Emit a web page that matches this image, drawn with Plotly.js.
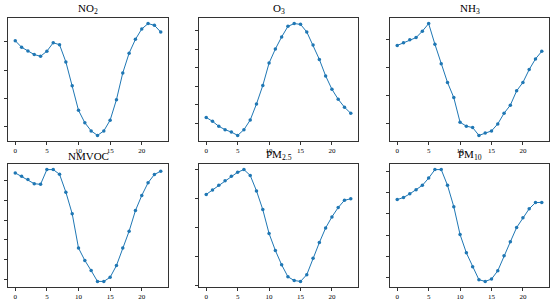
<!DOCTYPE html>
<html>
<head>
<meta charset="utf-8">
<script src="https://cdn.plot.ly/plotly-3.0.1.min.js"></script>
<style>html,body{margin:0;padding:0;background:#fff;}#chart{width:555px;height:306px;}</style>
</head>
<body>
<div id="chart"></div>
<script>
const hours = [0,1,2,3,4,5,6,7,8,9,10,11,12,13,14,15,16,17,18,19,20,21,22,23];
const titles = ["NO<sub>2</sub>", "O<sub>3</sub>", "NH<sub>3</sub>", "NMVOC", "PM<sub>2.5</sub>", "PM<sub>10</sub>"];
const no2   = [50.4,48.1,46.8,45.5,44.9,46.7,49.7,49.0,42.9,34.4,25.7,21.3,18.4,16.8,18.4,22.2,29.5,39.0,46.0,50.9,54.6,56.5,55.9,53.5];
const o3    = [23.2,21.1,18.4,16.6,15.3,13.5,16.6,21.8,30.5,40.4,52.5,60.1,66.6,72.3,73.8,73.4,69.3,62.2,54.5,45.6,38.4,33.0,28.7,25.4];
const nh3   = [48.0,49.0,50.0,50.8,53.1,55.8,48.4,41.5,34.8,29.4,20.6,19.2,18.7,15.9,16.8,17.5,20.0,23.8,26.7,31.8,34.8,39.4,43.2,45.9];
const nmvoc = [74.1,72.4,70.7,68.6,68.3,75.8,75.8,73.4,64.3,53.3,35.8,29.5,24.3,18.8,18.8,20.9,26.9,35.8,44.4,54.9,62.6,69.1,73.3,75.0];
const pm25  = [51.3,52.8,54.4,56.0,57.5,58.9,59.8,57.8,52.5,46.1,37.9,32.1,27.2,23.1,21.8,21.5,23.8,29.4,34.8,39.8,43.6,46.8,49.3,49.8];
const pm10  = [56.7,57.7,59.4,61.3,63.4,66.8,70.8,70.8,63.4,53.4,40.3,31.7,25.2,19.1,18.3,19.4,23.3,30.4,36.9,43.6,48.2,52.4,55.3,55.4];
const xTicks = [0,5,10,15,20];

const series = [no2, o3, nh3, nmvoc, pm25, pm10];
const W = 555, H = 306;
const colsPx = [[8,168],[199,358],[390,549]];
const rowsPx = [[18,141],[164,287]];

const data = [];
const layout = {
  width: W, height: H,
  margin: {l:0, r:0, t:0, b:0},
  paper_bgcolor: '#fff', plot_bgcolor: '#fff',
  showlegend: false,
  annotations: []
};
const font = {family: 'Liberation Serif, DejaVu Serif, serif', size: 7, color: '#000'};

series.forEach((vals, i) => {
  const r = Math.floor(i / 3), c = i % 3;
  const n = i + 1;
  const xa = 'x' + (n === 1 ? '' : n), ya = 'y' + (n === 1 ? '' : n);
  data.push({
    x: hours, y: vals, xaxis: xa, yaxis: ya,
    type: 'scatter', mode: 'lines+markers',
    line: {color: '#1f77b4', width: 1},
    marker: {color: '#1f77b4', size: 3.5},
    hoverinfo: 'skip'
  });
  const mn = Math.min(...vals), mx = Math.max(...vals), sp = mx - mn;
  const xd = [colsPx[c][0] / W, colsPx[c][1] / W];
  const yd = [1 - rowsPx[r][1] / H, 1 - rowsPx[r][0] / H];
  const axBase = {
    showline: true, mirror: true, linecolor: '#333', linewidth: 1,
    showgrid: false, zeroline: false, ticks: 'outside', ticklen: 3,
    tickwidth: 1, tickcolor: '#333', tickfont: font
  };
  layout['xaxis' + (n === 1 ? '' : n)] = Object.assign({}, axBase, {
    domain: xd, anchor: ya.replace('y', 'y') , range: [-1.15, 24.15],
    tickmode: 'array', tickvals: xTicks, ticktext: xTicks.map(String)
  });
  layout['yaxis' + (n === 1 ? '' : n)] = Object.assign({}, axBase, {
    domain: yd, anchor: xa, range: [mn - 0.05 * sp, mx + 0.05 * sp],
    tick0: 0, dtick: 10, showticklabels: false
  });
  layout.annotations.push({
    text: titles[i], xref: 'paper', yref: 'paper',
    x: (xd[0] + xd[1]) / 2, y: yd[1], xanchor: 'center', yanchor: 'bottom',
    yshift: 0, showarrow: false,
    font: {family: 'Liberation Serif, DejaVu Serif, serif', size: 11, color: '#000'}
  });
});

Plotly.newPlot('chart', data, layout, {staticPlot: true, displayModeBar: false});
</script>
</body>
</html>
